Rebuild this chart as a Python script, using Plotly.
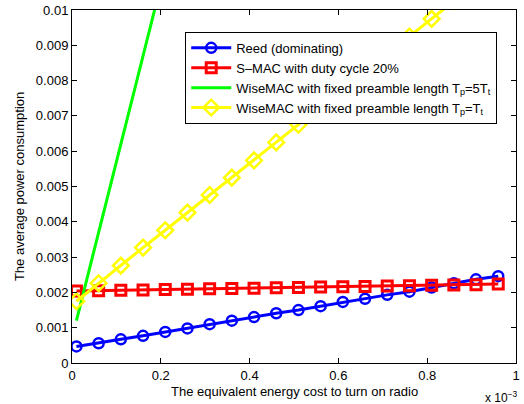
import plotly.graph_objects as go

# x values (equivalent energy cost to turn on radio), in units of 1e-3
x_e3 = [0.01, 0.06, 0.11, 0.16, 0.21, 0.26, 0.31, 0.36, 0.41, 0.46,
        0.51, 0.56, 0.61, 0.66, 0.71, 0.76, 0.81, 0.86, 0.91, 0.96]
x_vals = [v * 1e-3 for v in x_e3]

reed = [0.00047, 0.00056, 0.00067, 0.00077, 0.00088, 0.00098, 0.00110, 0.00120, 0.00130, 0.00141,
        0.00150, 0.00161, 0.00173, 0.00182, 0.00193, 0.00202, 0.00214, 0.00226, 0.00237, 0.00246]
smac = [0.00204, 0.00205, 0.00206, 0.00207, 0.00208, 0.00209, 0.00210, 0.00211, 0.00212, 0.00213,
        0.00214, 0.00215, 0.00216, 0.00217, 0.00218, 0.00219, 0.00220, 0.00221, 0.00222, 0.00224]
wise5 = [0.00120, 0.00370, 0.00620, 0.00870, 0.01120]
wise1 = [0.00175, 0.00226, 0.00276, 0.00327, 0.00376, 0.00426, 0.00476, 0.00525, 0.00574, 0.00625,
         0.00675, 0.00725, 0.00775, 0.00825, 0.00875, 0.00925, 0.00975, 0.01025, 0.01075, 0.01125]

x_ticks = [0, 0.2e-3, 0.4e-3, 0.6e-3, 0.8e-3, 1e-3]
x_tick_labels = ["0", "0.2", "0.4", "0.6", "0.8", "1"]
y_ticks = [0, 0.001, 0.002, 0.003, 0.004, 0.005, 0.006, 0.007, 0.008, 0.009, 0.01]
y_tick_labels = ["0", "0.001", "0.002", "0.003", "0.004", "0.005", "0.006", "0.007", "0.008", "0.009", "0.01"]

names = ["Reed (dominating)", "S\u2013MAC with duty cycle 20%",
         "WiseMAC with fixed preamble length T<sub>p</sub>=5T<sub>t</sub>",
         "WiseMAC with fixed preamble length T<sub>p</sub>=T<sub>t</sub>"]

font = "Liberation Sans, Arial, sans-serif"

fig = go.Figure()
fig.add_trace(go.Scatter(x=x_vals, y=reed, name=names[0], mode="lines+markers",
                         line=dict(color="#0000ff", width=3),
                         marker=dict(symbol="circle-open", size=10, color="#0000ff", line=dict(width=2.5))))
fig.add_trace(go.Scatter(x=x_vals, y=smac, name=names[1], mode="lines+markers",
                         line=dict(color="#ff0000", width=3),
                         marker=dict(symbol="square-open", size=10, color="#ff0000", line=dict(width=3))))
fig.add_trace(go.Scatter(x=x_vals[:len(wise5)], y=wise5, name=names[2], mode="lines",
                         line=dict(color="#00ff00", width=3)))
fig.add_trace(go.Scatter(x=x_vals, y=wise1, name=names[3], mode="lines+markers",
                         line=dict(color="#ffff00", width=3),
                         marker=dict(symbol="diamond-open", size=12, color="#ffff00", line=dict(width=2.5))))

axis_common = dict(showline=True, linecolor="black", linewidth=1, mirror="ticks",
                   ticks="inside", ticklen=5, tickcolor="black", showgrid=False, zeroline=False,
                   automargin=False,
                   tickfont=dict(family=font, size=13, color="black"))

fig.update_layout(
    width=524, height=404,
    margin=dict(l=72, r=8, t=10, b=41, autoexpand=False),
    paper_bgcolor="white", plot_bgcolor="white",
    font=dict(family=font, size=12, color="black"),
    showlegend=True,
    legend=dict(x=0.255, y=0.938, xanchor="left", yanchor="top",
                bordercolor="black", borderwidth=1, bgcolor="white",
                font=dict(family=font, size=13), tracegroupgap=1, itemwidth=40),
    xaxis=dict(range=[0, 1e-3], tickvals=x_ticks, ticktext=x_tick_labels, **axis_common),
    yaxis=dict(range=[0, 0.01], tickvals=y_ticks, ticktext=y_tick_labels, **axis_common),
)
fig.add_annotation(x=0.5, y=-0.082, xref="paper", yref="paper", xanchor="center", yanchor="middle",
                   text="The equivalent energy cost to turn on radio", showarrow=False,
                   font=dict(family=font, size=13))
fig.add_annotation(x=-0.118, y=0.5, xref="paper", yref="paper", xanchor="center", yanchor="middle",
                   text="The average power consumption", showarrow=False, textangle=-90,
                   font=dict(family=font, size=13))
fig.add_annotation(x=1.009, y=-0.095, xref="paper", yref="paper", xanchor="right", yanchor="middle",
                   text="x 10<sup>\u22123</sup>", showarrow=False, font=dict(family=font, size=12))

fig.write_html("out.html", post_script="document.body.style.margin='0px';",
               config={"displayModeBar": False})
